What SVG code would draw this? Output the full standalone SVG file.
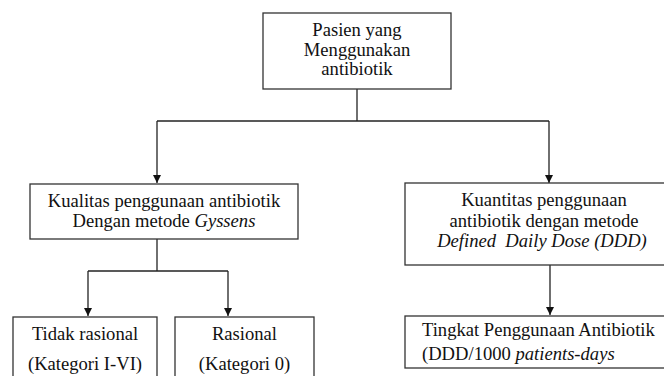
<svg xmlns="http://www.w3.org/2000/svg" width="664" height="376" viewBox="0 0 664 376">
<style>
.box{fill:#fff;stroke:#333;stroke-width:1.3}
.t{font-family:'Liberation Serif','Times New Roman',serif;font-size:18.6px;fill:#111;text-anchor:middle}
.l{text-anchor:start}
.c{fill:none;stroke:#222;stroke-width:1.3}
</style>
<defs>
<marker id="ah" viewBox="0 0 10 10" refX="10" refY="5" markerWidth="8" markerHeight="8" markerUnits="userSpaceOnUse" orient="auto">
<path d="M0,0 L10,5 L0,10 Z" fill="#111"/>
</marker>
</defs>
<rect width="664" height="376" fill="#fff"/>
<g id="connectors">
<path class="c" d="M357,89 V121"/>
<path class="c" d="M157,121 H549"/>
<path class="c" d="M157,121 V183" marker-end="url(#ah)"/>
<path class="c" d="M549,121 V183" marker-end="url(#ah)"/>
<path class="c" d="M157,239 V271"/>
<path class="c" d="M88,271 H228"/>
<path class="c" d="M88,271 V316" marker-end="url(#ah)"/>
<path class="c" d="M228,271 V316" marker-end="url(#ah)"/>
<path class="c" d="M550,265 V315" marker-end="url(#ah)"/>
</g>
<g id="pasien">
<rect class="box" x="263" y="13" width="188" height="76"/>
<text class="t" x="357" y="36">Pasien yang</text>
<text class="t" x="357" y="56">Menggunakan</text>
<text class="t" x="357" y="75">antibiotik</text>
</g>
<g id="kualitas">
<rect class="box" x="30" y="184" width="268" height="55"/>
<text class="t" x="164" y="207">Kualitas penggunaan antibiotik</text>
<text class="t" x="164" y="227">Dengan metode <tspan font-style="italic">Gyssens</tspan></text>
</g>
<g id="kuantitas">
<rect class="box" x="405" y="183" width="270" height="82"/>
<text class="t" x="544" y="206">Kuantitas penggunaan</text>
<text class="t" x="544" y="227">antibiotik dengan metode</text>
<text class="t" x="542" y="247" font-style="italic" xml:space="preserve">Defined  Daily Dose (DDD)</text>
</g>
<g id="tidak-rasional">
<rect class="box" x="13" y="317" width="144" height="70"/>
<text class="t" x="85" y="340">Tidak rasional</text>
<text class="t" x="85" y="370">(Kategori I-VI)</text>
</g>
<g id="rasional">
<rect class="box" x="175" y="317" width="139" height="70"/>
<text class="t" x="244.5" y="340">Rasional</text>
<text class="t" x="244.5" y="370">(Kategori 0)</text>
</g>
<g id="tingkat">
<rect class="box" x="405" y="316" width="270" height="52"/>
<text class="t l" x="422" y="336">Tingkat Penggunaan Antibiotik</text>
<text class="t l" x="422" y="360">(DDD/1000 <tspan font-style="italic">patients-days</tspan></text>
</g>
</svg>
